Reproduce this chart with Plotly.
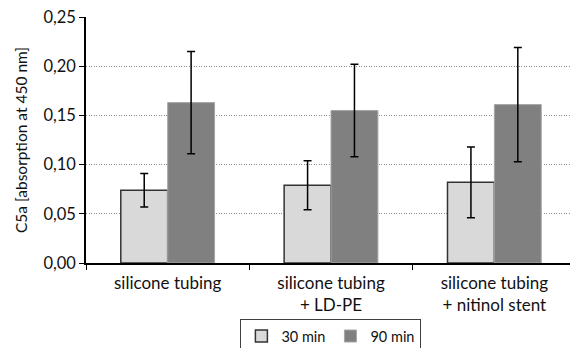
import plotly.graph_objects as go

categories = ["silicone tubing", "silicone tubing<br>+ LD-PE", "silicone tubing<br>+ nitinol stent"]
series_names = ["30 min", "90 min"]
values_30 = [0.074, 0.079, 0.082]
errors_30 = [0.017, 0.025, 0.036]
values_90 = [0.163, 0.155, 0.161]
errors_90 = [0.052, 0.047, 0.058]
y_ticks = [0.0, 0.05, 0.10, 0.15, 0.20, 0.25]

FONT = "Lato, Carlito, Calibri, sans-serif"

fig = go.Figure()
fig.add_trace(go.Bar(
    name=series_names[0], x=categories, y=values_30,
    marker=dict(color="#d9d9d9", line=dict(color="#333333", width=1.5)),
    error_y=dict(type="data", array=errors_30, color="#000000", thickness=1.5, width=4),
))
fig.add_trace(go.Bar(
    name=series_names[1], x=categories, y=values_90,
    marker=dict(color="#808080", line=dict(color="#a6a6a6", width=1)),
    error_y=dict(type="data", array=errors_90, color="#000000", thickness=1.5, width=4),
))

fig.update_layout(
    width=570, height=348,
    margin=dict(l=86, r=0, t=17, b=85, autoexpand=False),
    plot_bgcolor="white", paper_bgcolor="white",
    separators=",.",
    barmode="group", bargap=0.426, bargroupgap=0,
    font=dict(family=FONT, size=16, color="#111111"),
    showlegend=True,
    legend=dict(orientation="h", x=0.506, xanchor="center", y=-0.228, yanchor="top",
                bordercolor="#404040", borderwidth=1, font=dict(size=14.5),
                itemwidth=30, tracegroupgap=0),
    xaxis=dict(range=[-0.5, 2.463], showline=True, linecolor="#000000", linewidth=1.5,
               ticks="outside", tickson="boundaries", ticklen=5, tickcolor="#000000",
               tickwidth=1, showgrid=False, automargin=False, tickfont=dict(size=17),
               ticklabelstandoff=4),
    yaxis=dict(range=[0, 0.25], tickvals=y_ticks, tickformat=".2f", showline=True,
               linecolor="#000000", linewidth=1.5, ticks="outside", ticklen=5,
               tickcolor="#000000", showgrid=True, gridcolor="#8c8c8c", griddash="1px,1.5px",
               gridwidth=1, zeroline=False, automargin=False, tickfont=dict(size=16.5),
               title=dict(text="C5a [absorption at 450 nm]", standoff=12, font=dict(size=15.5))),
)

fig.write_html("out.html", config={"displayModeBar": False},
               post_script="document.body.style.margin='0';")
